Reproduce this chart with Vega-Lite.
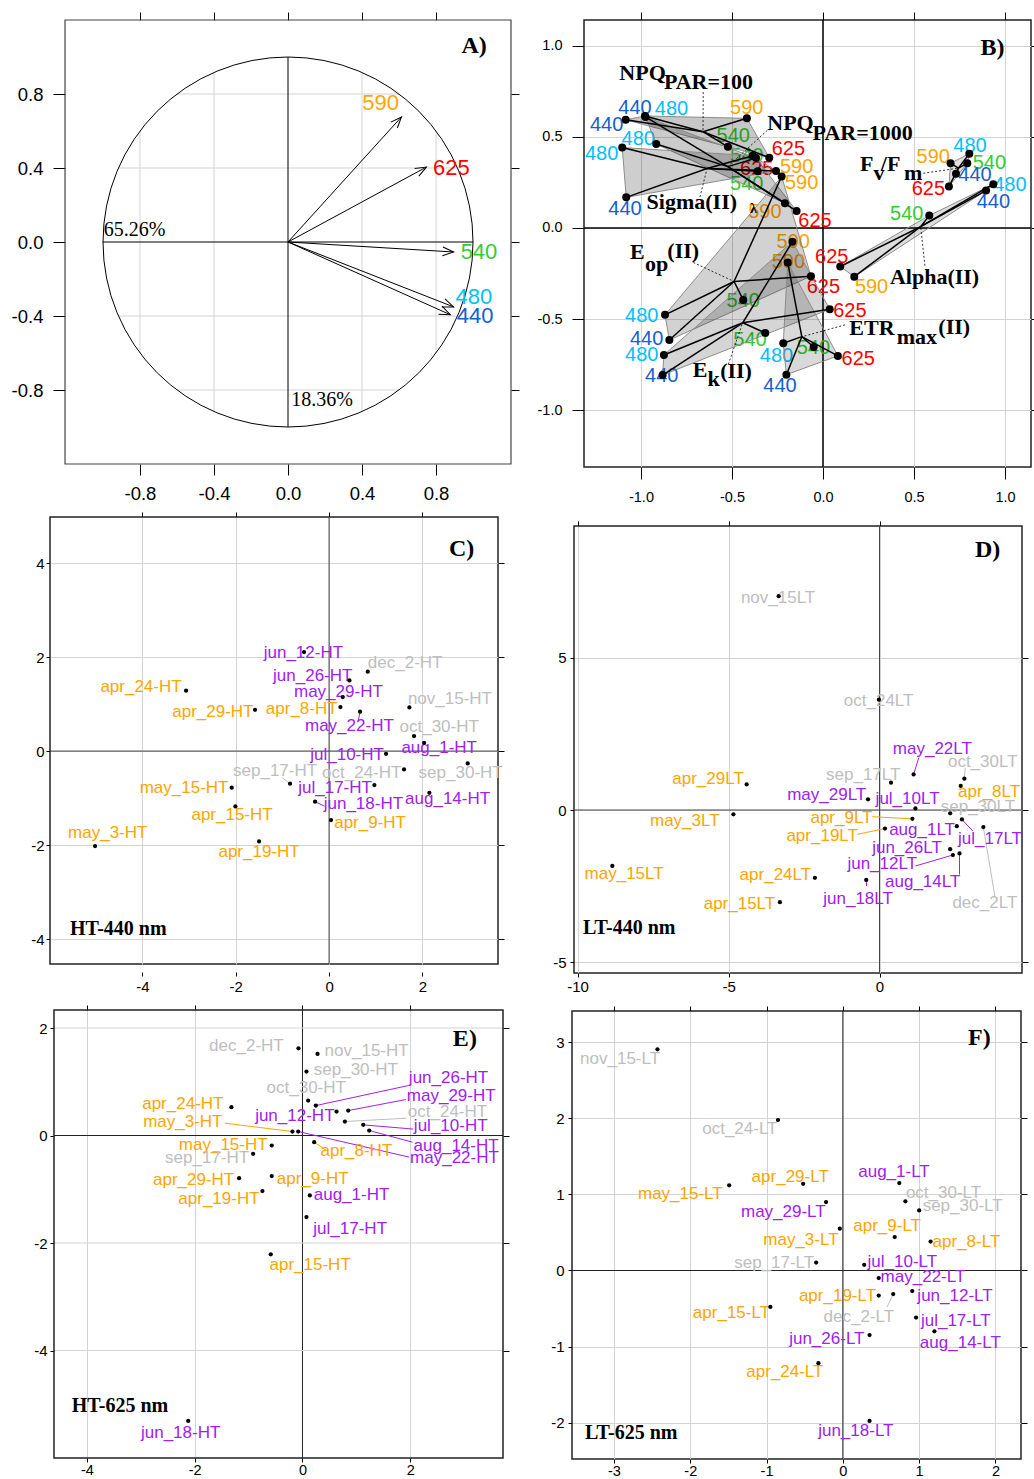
{
"$schema":"https://vega.github.io/schema/vega-lite/v6.json",
"padding":0,
"columns":2,
"align":"none",
"bounds":"full",
"spacing":{"row":0,"column":0},
"resolve":{"scale":{"color":"independent","fillOpacity":"independent"}},
"config":{
 "view":{"stroke":"#222","strokeWidth":1.5},
 "axis":{"labelFont":"Liberation Sans","labelColor":"black","tickColor":"black","tickWidth":1,"domain":false,"labelFlush":false,"labelOverlap":false,"gridColor":"#D3D3D3","gridWidth":1},
 "locale":{"number":{"decimal":".","thousands":",","grouping":[3],"currency":["$",""],"minus":"-"}}
},
"datasets":{
 "A_grid":[
  {"x":-0.8,"y":-0.6,"x2":-0.8,"y2":0.6},{"x":-0.4,"y":-0.9165,"x2":-0.4,"y2":0.9165},
  {"x":0.4,"y":-0.9165,"x2":0.4,"y2":0.9165},{"x":0.8,"y":-0.6,"x2":0.8,"y2":0.6},
  {"x":-0.6,"y":0.8,"x2":0.6,"y2":0.8},{"x":-0.9165,"y":0.4,"x2":0.9165,"y2":0.4},
  {"x":-0.9165,"y":-0.4,"x2":0.9165,"y2":-0.4},{"x":-0.6,"y":-0.8,"x2":0.6,"y2":-0.8}],
 "A_axes":[{"x":-1,"y":0,"x2":1,"y2":0},{"x":0,"y":-1,"x2":0,"y2":1}],
 "A_box":[{"x":-1.205,"y":-1.2,"x2":1.205,"y2":1.2}],
 "A_vec":[
  {"wl":"590","x":0.613,"y":0.676,"lx":0.501,"ly":0.751},
  {"wl":"625","x":0.748,"y":0.405,"lx":0.883,"ly":0.40},
  {"wl":"540","x":0.895,"y":-0.054,"lx":1.032,"ly":-0.054},
  {"wl":"480","x":0.895,"y":-0.351,"lx":1.004,"ly":-0.297},
  {"wl":"440","x":0.877,"y":-0.393,"lx":1.011,"ly":-0.398}],
 "B_pts":[
  {"p":"NPQ100","wl":"440","x":-1.084,"y":0.593,"lx":-1.189,"ly":0.562,"h":1},
  {"p":"NPQ100","wl":"480","x":-0.978,"y":0.614,"lx":-0.832,"ly":0.654,"h":2},
  {"p":"NPQ100","wl":"590","x":-0.418,"y":0.601,"lx":-0.419,"ly":0.659,"h":3},
  {"p":"NPQ100","wl":"625","x":-0.295,"y":0.385,"lx":-0.190,"ly":0.434,"h":4},
  {"p":"NPQ100","wl":"540","x":-0.522,"y":0.445,"lx":-0.493,"ly":0.502,"h":5},
  {"p":"NPQ1000","wl":"440","x":-0.975,"y":0.609,"lx":-1.033,"ly":0.659,"h":1},
  {"p":"NPQ1000","wl":"540","x":-0.368,"y":0.383,"lx":-0.419,"ly":0.242,"h":2},
  {"p":"NPQ1000","wl":"625","x":-0.145,"y":0.093,"lx":-0.044,"ly":0.040,"h":3},
  {"p":"NPQ1000","wl":"590","x":-0.209,"y":0.136,"lx":-0.319,"ly":0.086,"h":4},
  {"p":"NPQ1000","wl":"480","x":-0.916,"y":0.460,"lx":-1.015,"ly":0.489,"h":5},
  {"p":"Sigma","wl":"480","x":-1.103,"y":0.441,"lx":-1.216,"ly":0.407,"h":1},
  {"p":"Sigma","wl":"540","x":-0.386,"y":0.396,"lx":-0.419,"ly":0.397,"h":2},
  {"p":"Sigma","wl":"590","x":-0.258,"y":0.313,"lx":-0.145,"ly":0.333,"h":3},
  {"p":"Sigma","wl":"440","x":-1.081,"y":0.168,"lx":-1.088,"ly":0.104,"h":4},
  {"p":"Sigma","wl":"625","x":-0.359,"y":0.311,"lx":-0.364,"ly":0.324,"h":null},
  {"p":"Eop","wl":"480","x":-0.868,"y":-0.476,"lx":-0.996,"ly":-0.482,"h":1},
  {"p":"Eop","wl":"590","x":-0.227,"y":0.282,"lx":-0.117,"ly":0.247,"h":2},
  {"p":"Eop","wl":"625","x":-0.066,"y":-0.264,"lx":0.002,"ly":-0.326,"h":3},
  {"p":"Eop","wl":"440","x":-0.844,"y":-0.614,"lx":-0.969,"ly":-0.606,"h":4},
  {"p":"Eop","wl":"540","x":-0.438,"y":-0.394,"lx":-0.438,"ly":-0.399,"h":null},
  {"p":"Ek","wl":"480","x":-0.874,"y":-0.696,"lx":-0.996,"ly":-0.698,"h":1},
  {"p":"Ek","wl":"590","x":-0.168,"y":-0.075,"lx":-0.163,"ly":-0.075,"h":2},
  {"p":"Ek","wl":"625","x":0.037,"y":-0.445,"lx":0.148,"ly":-0.454,"h":3},
  {"p":"Ek","wl":"440","x":-0.881,"y":-0.806,"lx":-0.886,"ly":-0.811,"h":4},
  {"p":"Ek","wl":"540","x":-0.317,"y":-0.575,"lx":-0.401,"ly":-0.615,"h":null},
  {"p":"ETRmax","wl":"590","x":-0.194,"y":-0.189,"lx":-0.190,"ly":-0.189,"h":1},
  {"p":"ETRmax","wl":"625","x":0.082,"y":-0.701,"lx":0.194,"ly":-0.720,"h":2},
  {"p":"ETRmax","wl":"440","x":-0.201,"y":-0.804,"lx":-0.236,"ly":-0.866,"h":3},
  {"p":"ETRmax","wl":"480","x":-0.218,"y":-0.632,"lx":-0.255,"ly":-0.701,"h":4},
  {"p":"ETRmax","wl":"540","x":-0.051,"y":-0.652,"lx":-0.053,"ly":-0.656,"h":null},
  {"p":"Alpha","wl":"625","x":0.095,"y":-0.211,"lx":0.048,"ly":-0.161,"h":1},
  {"p":"Alpha","wl":"540","x":0.584,"y":0.068,"lx":0.460,"ly":0.077,"h":2},
  {"p":"Alpha","wl":"480","x":0.936,"y":0.240,"lx":1.027,"ly":0.233,"h":3},
  {"p":"Alpha","wl":"440","x":0.896,"y":0.205,"lx":0.936,"ly":0.141,"h":4},
  {"p":"Alpha","wl":"590","x":0.172,"y":-0.267,"lx":0.267,"ly":-0.326,"h":5},
  {"p":"FvFm","wl":"625","x":0.692,"y":0.227,"lx":0.579,"ly":0.211,"h":1},
  {"p":"FvFm","wl":"590","x":0.701,"y":0.355,"lx":0.606,"ly":0.388,"h":2},
  {"p":"FvFm","wl":"480","x":0.804,"y":0.407,"lx":0.808,"ly":0.452,"h":3},
  {"p":"FvFm","wl":"540","x":0.793,"y":0.355,"lx":0.914,"ly":0.355,"h":4},
  {"p":"FvFm","wl":"440","x":0.731,"y":0.297,"lx":0.835,"ly":0.288,"h":null}],
 "B_plab":[
  {"t":"NPQ","x":-1.119,"y":0.813},{"t":"PAR=100","x":-0.874,"y":0.764},
  {"t":"NPQ","x":-0.306,"y":0.535},{"t":"PAR=1000","x":-0.057,"y":0.485},
  {"t":"F","x":0.203,"y":0.315},{"t":"v","x":0.277,"y":0.264},{"t":"/F","x":0.318,"y":0.315},{"t":"m","x":0.445,"y":0.264},
  {"t":"Sigma(II)","x":-0.969,"y":0.104},
  {"t":"E","x":-1.060,"y":-0.170},{"t":"op","x":-0.978,"y":-0.234},{"t":"(II)","x":-0.855,"y":-0.165},
  {"t":"E","x":-0.716,"y":-0.817},{"t":"k","x":-0.635,"y":-0.866},{"t":"(II)","x":-0.565,"y":-0.821},
  {"t":"ETR","x":0.145,"y":-0.586},{"t":"max","x":0.405,"y":-0.637},{"t":"(II)","x":0.634,"y":-0.579},
  {"t":"Alpha(II)","x":0.368,"y":-0.308}],
 "B_lead":[
  {"x":-0.658,"y":0.745,"x2":-0.659,"y2":0.528},
  {"x":-0.306,"y":0.535,"x2":-0.523,"y2":0.337},
  {"x":-0.676,"y":0.170,"x2":-0.637,"y2":0.326},
  {"x":0.551,"y":0.300,"x2":0.744,"y2":0.328},
  {"x":-0.712,"y":-0.189,"x2":-0.489,"y2":-0.293},
  {"x":-0.520,"y":-0.747,"x2":-0.441,"y2":-0.519},
  {"x":0.121,"y":-0.531,"x2":-0.116,"y2":-0.596},
  {"x":0.560,"y":-0.207,"x2":0.537,"y2":0.007}],
 "C":[
  {"n":"jun_12-HT","s":"su","x":-0.536,"y":2.106,"lx":-0.55,"ly":2.085},
  {"n":"dec_2-HT","s":"fa","x":0.829,"y":1.688,"lx":1.63,"ly":1.88},
  {"n":"jun_26-HT","s":"su","x":0.436,"y":1.504,"lx":-0.35,"ly":1.596},
  {"n":"apr_24-HT","s":"sp","x":-3.064,"y":1.284,"lx":-4.03,"ly":1.369},
  {"n":"may_29-HT","s":"su","x":0.293,"y":1.149,"lx":0.2,"ly":1.262},
  {"n":"nov_15-HT","s":"fa","x":1.721,"y":0.929,"lx":2.59,"ly":1.113},
  {"n":"apr_29-HT","s":"sp","x":-1.586,"y":0.879,"lx":-2.49,"ly":0.837},
  {"n":"apr_8-HT","s":"sp","x":0.243,"y":0.936,"lx":-0.586,"ly":0.887},
  {"n":"may_22-HT","s":"su","x":0.664,"y":0.837,"lx":0.436,"ly":0.532,"ex":0.629,"ey":0.66},
  {"n":"oct_30-HT","s":"fa","x":1.821,"y":0.319,"lx":2.36,"ly":0.518},
  {"n":"aug_1-HT","s":"su","x":2.036,"y":0.177,"lx":2.36,"ly":0.057},
  {"n":"jul_10-HT","s":"su","x":1.221,"y":-0.057,"lx":0.386,"ly":-0.092},
  {"n":"sep_30-HT","s":"fa","x":2.971,"y":-0.262,"lx":2.82,"ly":-0.461},
  {"n":"oct_24-HT","s":"fa","x":1.607,"y":-0.39,"lx":0.7,"ly":-0.461},
  {"n":"sep_17-HT","s":"fa","x":-0.836,"y":-0.695,"lx":-1.157,"ly":-0.426,"ex":-1.0,"ey":-0.57},
  {"n":"jul_17-HT","s":"su","x":0.971,"y":-0.723,"lx":0.129,"ly":-0.794},
  {"n":"may_15-HT","s":"sp","x":-2.086,"y":-0.78,"lx":-3.107,"ly":-0.794},
  {"n":"aug_14-HT","s":"su","x":2.15,"y":-0.887,"lx":2.54,"ly":-1.028},
  {"n":"jun_18-HT","s":"su","x":-0.3,"y":-1.078,"lx":0.736,"ly":-1.12,"ex":-0.1,"ey":-1.17},
  {"n":"apr_15-HT","s":"sp","x":-2.007,"y":-1.177,"lx":-2.079,"ly":-1.362},
  {"n":"apr_9-HT","s":"sp","x":0.043,"y":-1.468,"lx":0.879,"ly":-1.525},
  {"n":"may_3-HT","s":"sp","x":-5.014,"y":-2.021,"lx":-4.743,"ly":-1.738},
  {"n":"apr_19-HT","s":"sp","x":-1.5,"y":-1.922,"lx":-1.5,"ly":-2.149}],
 "D":[
  {"n":"nov_15LT","s":"fa","x":-3.34,"y":7.03,"lx":-3.36,"ly":6.97},
  {"n":"oct_24LT","s":"fa","x":-0.02,"y":3.63,"lx":-0.03,"ly":3.57},
  {"n":"may_22LT","s":"su","x":1.13,"y":1.17,"lx":1.75,"ly":2.02,"ex":1.30,"ey":1.72},
  {"n":"oct_30LT","s":"fa","x":2.81,"y":1.03,"lx":3.42,"ly":1.59,"ex":2.84,"ey":1.39},
  {"n":"apr_29LT","s":"sp","x":-4.4,"y":0.84,"lx":-5.68,"ly":1.03},
  {"n":"sep_17LT","s":"fa","x":0.38,"y":0.9,"lx":-0.54,"ly":1.14},
  {"n":"apr_8LT","s":"sp","x":2.69,"y":0.79,"lx":3.63,"ly":0.6},
  {"n":"may_29LT","s":"su","x":-0.38,"y":0.35,"lx":-1.75,"ly":0.49},
  {"n":"jul_10LT","s":"su","x":1.19,"y":0.05,"lx":0.93,"ly":0.35},
  {"n":"sep_30LT","s":"fa","x":2.34,"y":-0.11,"lx":3.26,"ly":0.11},
  {"n":"may_3LT","s":"sp","x":-4.84,"y":-0.14,"lx":-6.45,"ly":-0.36},
  {"n":"apr_9LT","s":"sp","x":1.09,"y":-0.29,"lx":-1.26,"ly":-0.25,"ex":-0.24,"ey":-0.22},
  {"n":"jul_17LT","s":"su","x":2.73,"y":-0.31,"lx":3.66,"ly":-0.96,"ex":3.09,"ey":-0.69},
  {"n":"aug_1LT","s":"su","x":2.56,"y":-0.53,"lx":1.41,"ly":-0.67},
  {"n":"apr_19LT","s":"sp","x":0.18,"y":-0.61,"lx":-1.9,"ly":-0.86,"ex":-0.74,"ey":-0.8},
  {"n":"jun_26LT","s":"su","x":2.34,"y":-1.29,"lx":0.91,"ly":-1.24},
  {"n":"jun_12LT","s":"su","x":2.43,"y":-1.48,"lx":0.09,"ly":-1.79,"ex":1.19,"ey":-1.84},
  {"n":"aug_14LT","s":"su","x":2.65,"y":-1.43,"lx":1.43,"ly":-2.36,"ex":2.65,"ey":-2.12},
  {"n":"may_15LT","s":"sp","x":-8.85,"y":-1.84,"lx":-8.46,"ly":-2.09},
  {"n":"apr_24LT","s":"sp","x":-2.14,"y":-2.23,"lx":-3.45,"ly":-2.14},
  {"n":"jun_18LT","s":"su","x":-0.44,"y":-2.3,"lx":-0.71,"ly":-2.94,"ex":-0.43,"ey":-2.5},
  {"n":"apr_15LT","s":"sp","x":-3.3,"y":-3.03,"lx":-4.64,"ly":-3.08},
  {"n":"dec_2LT","s":"fa","x":3.44,"y":-0.56,"lx":3.49,"ly":-3.05,"ex":3.82,"ey":-2.83}],
 "E":[
  {"n":"dec_2-HT","s":"fa","x":-0.074,"y":1.622,"lx":-1.04,"ly":1.672},
  {"n":"nov_15-HT","s":"fa","x":0.279,"y":1.517,"lx":1.19,"ly":1.579},
  {"n":"sep_30-HT","s":"fa","x":0.074,"y":1.189,"lx":0.99,"ly":1.226},
  {"n":"oct_30-HT","s":"fa","x":0.105,"y":0.65,"lx":0.07,"ly":0.879},
  {"n":"jun_26-HT","s":"su","x":0.248,"y":0.557,"lx":2.71,"ly":1.065,"ex":1.963,"ey":0.929},
  {"n":"apr_24-HT","s":"sp","x":-1.319,"y":0.526,"lx":-2.22,"ly":0.588},
  {"n":"may_29-HT","s":"su","x":0.848,"y":0.464,"lx":2.76,"ly":0.743,"ex":1.92,"ey":0.669},
  {"n":"jun_12-HT","s":"su","x":0.632,"y":0.446,"lx":-0.142,"ly":0.359},
  {"n":"oct_24-HT","s":"fa","x":0.786,"y":0.26,"lx":2.69,"ly":0.433,"ex":1.93,"ey":0.322},
  {"n":"jul_10-HT","s":"su","x":1.127,"y":0.198,"lx":2.75,"ly":0.173,"ex":2.05,"ey":0.12},
  {"n":"aug_14-HT","s":"su","x":1.238,"y":0.093,"lx":2.85,"ly":-0.186,"ex":2.04,"ey":-0.124},
  {"n":"may_3-HT","s":"sp","x":-0.186,"y":0.074,"lx":-2.22,"ly":0.248,"ex":-1.44,"ey":0.229},
  {"n":"may_22-HT","s":"su","x":-0.08,"y":0.074,"lx":2.82,"ly":-0.421,"ex":1.98,"ey":-0.402},
  {"n":"apr_8-HT","s":"sp","x":0.217,"y":-0.124,"lx":1.0,"ly":-0.297,"ex":0.446,"ey":-0.279},
  {"n":"may_15-HT","s":"sp","x":-0.57,"y":-0.186,"lx":-1.47,"ly":-0.173},
  {"n":"sep_17-HT","s":"fa","x":-0.916,"y":-0.341,"lx":-1.77,"ly":-0.421},
  {"n":"apr_29-HT","s":"sp","x":-1.176,"y":-0.793,"lx":-2.02,"ly":-0.836},
  {"n":"apr_9-HT","s":"sp","x":-0.57,"y":-0.755,"lx":0.19,"ly":-0.805},
  {"n":"apr_19-HT","s":"sp","x":-0.743,"y":-1.034,"lx":-1.55,"ly":-1.189},
  {"n":"aug_1-HT","s":"su","x":0.136,"y":-1.115,"lx":0.91,"ly":-1.115},
  {"n":"jul_17-HT","s":"su","x":0.074,"y":-1.517,"lx":0.885,"ly":-1.734},
  {"n":"apr_15-HT","s":"sp","x":-0.588,"y":-2.21,"lx":0.142,"ly":-2.415},
  {"n":"jun_18-HT","s":"su","x":-2.12,"y":-5.31,"lx":-2.26,"ly":-5.53}],
 "E_box":[{"x":-4.61,"y":-6.0,"x2":3.72,"y2":2.335}],
 "E_hl":[{"g":-4,"xa":-4.61,"xb":3.72,"k":"grid"},{"g":-2,"xa":-4.61,"xb":3.72,"k":"grid"},{"g":2,"xa":-4.61,"xb":3.72,"k":"grid"},{"g":0,"xa":-4.61,"xb":3.72,"k":"zero"}],
 "F":[
  {"n":"nov_15-LT","s":"fa","x":-2.43,"y":2.91,"lx":-2.92,"ly":2.78},
  {"n":"oct_24-LT","s":"fa","x":-0.85,"y":1.98,"lx":-1.35,"ly":1.86},
  {"n":"apr_29-LT","s":"sp","x":-0.52,"y":1.14,"lx":-0.69,"ly":1.23},
  {"n":"aug_1-LT","s":"su","x":0.74,"y":1.15,"lx":0.67,"ly":1.29},
  {"n":"may_15-LT","s":"sp","x":-1.49,"y":1.12,"lx":-2.13,"ly":1.01},
  {"n":"oct_30-LT","s":"fa","x":0.82,"y":0.91,"lx":1.32,"ly":1.02},
  {"n":"may_29-LT","s":"su","x":-0.22,"y":0.9,"lx":-0.78,"ly":0.77},
  {"n":"sep_30-LT","s":"fa","x":1.0,"y":0.79,"lx":1.57,"ly":0.85},
  {"n":"may_3-LT","s":"sp","x":-0.04,"y":0.55,"lx":-0.55,"ly":0.4},
  {"n":"apr_9-LT","s":"sp","x":0.68,"y":0.44,"lx":0.58,"ly":0.58},
  {"n":"apr_8-LT","s":"sp","x":1.15,"y":0.38,"lx":1.62,"ly":0.37},
  {"n":"sep_17-LT","s":"fa","x":-0.35,"y":0.105,"lx":-0.9,"ly":0.105},
  {"n":"jul_10-LT","s":"su","x":0.28,"y":0.075,"lx":0.78,"ly":0.118},
  {"n":"may_22-LT","s":"su","x":0.47,"y":-0.1,"lx":1.05,"ly":-0.088},
  {"n":"apr_19-LT","s":"sp","x":0.47,"y":-0.33,"lx":-0.07,"ly":-0.33},
  {"n":"dec_2-LT","s":"fa","x":0.66,"y":-0.31,"lx":0.21,"ly":-0.61,"ex":0.58,"ey":-0.48},
  {"n":"jun_12-LT","s":"su","x":0.91,"y":-0.27,"lx":1.47,"ly":-0.33},
  {"n":"apr_15-LT","s":"sp","x":-0.95,"y":-0.48,"lx":-1.46,"ly":-0.56},
  {"n":"jul_17-LT","s":"su","x":0.96,"y":-0.62,"lx":1.48,"ly":-0.66},
  {"n":"aug_14-LT","s":"su","x":1.2,"y":-0.8,"lx":1.54,"ly":-0.96},
  {"n":"jun_26-LT","s":"su","x":0.35,"y":-0.85,"lx":-0.21,"ly":-0.9},
  {"n":"apr_24-LT","s":"sp","x":-0.32,"y":-1.22,"lx":-0.76,"ly":-1.34},
  {"n":"jun_18-LT","s":"su","x":0.35,"y":-1.98,"lx":0.17,"ly":-2.11}]
},
"concat":[
 {
  "width":461,"height":444,
  "view":{"stroke":null},
  "resolve":{"axis":{"x":"independent","y":"independent"}},
  "layer":[
   {"data":{"name":"A_grid"},"mark":{"type":"rule","color":"#D3D3D3","strokeWidth":1},
    "encoding":{
     "x":{"field":"x","type":"quantitative","scale":{"domain":[-1.2861,1.205],"nice":false,"zero":false},
      "axis":{"orient":"bottom","values":[-0.8,-0.4,0,0.4,0.8],"format":".1f","tickSize":11,"labelPadding":9,"labelFontSize":18.5,"minExtent":43,"maxExtent":43,"grid":false,"title":null}},
     "y":{"field":"y","type":"quantitative","scale":{"domain":[-1.2,1.2],"nice":false,"zero":false},
      "axis":{"orient":"left","offset":-15,"values":[-0.8,-0.4,0,0.4,0.8],"format":".1f","tickSize":12,"labelPadding":10,"labelFontSize":18.5,"minExtent":64,"maxExtent":64,"grid":false,"title":null}},
     "x2":{"field":"x2"},"y2":{"field":"y2"}}},
   {"data":{"name":"A_axes"},"mark":{"type":"rule","color":"black","strokeWidth":1},
    "encoding":{
     "x":{"field":"x","type":"quantitative","scale":{"domain":[-1.2861,1.205],"nice":false,"zero":false},
      "axis":{"orient":"top","values":[-0.8,-0.4,0,0.4,0.8],"labels":false,"tickSize":8,"minExtent":19,"maxExtent":19,"grid":false,"title":null}},
     "y":{"field":"y","type":"quantitative","scale":{"domain":[-1.2,1.2],"nice":false,"zero":false},
      "axis":{"orient":"right","values":[-0.8,-0.4,0,0.4,0.8],"labels":false,"tickSize":8,"minExtent":10,"maxExtent":10,"grid":false,"title":null}},
     "x2":{"field":"x2"},"y2":{"field":"y2"}}},
   {"data":{"name":"A_box"},"mark":{"type":"rect","filled":false,"stroke":"#444","strokeWidth":1.2},
    "encoding":{
     "x":{"field":"x","type":"quantitative","scale":{"domain":[-1.2861,1.205],"nice":false,"zero":false},"axis":null},
     "y":{"field":"y","type":"quantitative","scale":{"domain":[-1.2,1.2],"nice":false,"zero":false},"axis":null},
     "x2":{"field":"x2"},"y2":{"field":"y2"}}},
   {"data":{"values":[{"x":0,"y":0}]},
    "mark":{"type":"point","shape":"circle","size":136900,"filled":false,"stroke":"black","strokeWidth":1,"opacity":1},
    "encoding":{
     "x":{"field":"x","type":"quantitative","scale":{"domain":[-1.2861,1.205],"nice":false,"zero":false},"axis":null},
     "y":{"field":"y","type":"quantitative","scale":{"domain":[-1.2,1.2],"nice":false,"zero":false},"axis":null}}},
   {"data":{"name":"A_vec"},"mark":{"type":"rule","color":"black","strokeWidth":1},
    "encoding":{
     "x":{"field":"x","type":"quantitative","scale":{"domain":[-1.2861,1.205],"nice":false,"zero":false},"axis":null},
     "y":{"field":"y","type":"quantitative","scale":{"domain":[-1.2,1.2],"nice":false,"zero":false},"axis":null},
     "x2":{"datum":0},"y2":{"datum":0}}},
   {"data":{"name":"A_vec"},
    "transform":[{"calculate":"-atan2(datum.y, datum.x) * 180 / PI","as":"ang"}],
    "mark":{"type":"point","shape":"M-1,-0.4L0,0L-1,0.4","size":484,"filled":false,"stroke":"black","strokeWidth":1,"opacity":1},
    "encoding":{
     "x":{"field":"x","type":"quantitative","scale":{"domain":[-1.2861,1.205],"nice":false,"zero":false},"axis":null},
     "y":{"field":"y","type":"quantitative","scale":{"domain":[-1.2,1.2],"nice":false,"zero":false},"axis":null},
     "angle":{"field":"ang","type":"quantitative","scale":null}}},
   {"data":{"name":"A_vec"},
    "mark":{"type":"text","font":"Liberation Sans","fontSize":22,"align":"center","baseline":"middle"},
    "encoding":{
     "x":{"field":"lx","type":"quantitative","scale":{"domain":[-1.2861,1.205],"nice":false,"zero":false},"axis":null},
     "y":{"field":"ly","type":"quantitative","scale":{"domain":[-1.2,1.2],"nice":false,"zero":false},"axis":null},
     "text":{"field":"wl","type":"nominal"},
     "color":{"field":"wl","type":"nominal","scale":{"domain":["440","480","540","590","625"],"range":["#1560D0","#00BFFF","#32CD32","#FFA500","#FF0000"]},"legend":null}}},
   {"data":{"values":[{"t":"65.26%","x":-0.996,"y":0.067},{"t":"18.36%","x":0.018,"y":-0.852}]},
    "mark":{"type":"text","font":"Liberation Serif","fontSize":20,"align":"left","baseline":"middle","color":"black"},
    "encoding":{
     "x":{"field":"x","type":"quantitative","scale":{"domain":[-1.2861,1.205],"nice":false,"zero":false},"axis":null},
     "y":{"field":"y","type":"quantitative","scale":{"domain":[-1.2,1.2],"nice":false,"zero":false},"axis":null},
     "text":{"field":"t","type":"nominal"}}},
   {"data":{"values":[{"t":"A)","x":0.937,"y":1.059}]},
    "mark":{"type":"text","font":"Liberation Serif","fontSize":24,"fontWeight":"bold","align":"left","baseline":"middle","color":"black"},
    "encoding":{
     "x":{"field":"x","type":"quantitative","scale":{"domain":[-1.2861,1.205],"nice":false,"zero":false},"axis":null},
     "y":{"field":"y","type":"quantitative","scale":{"domain":[-1.2,1.2],"nice":false,"zero":false},"axis":null},
     "text":{"field":"t","type":"nominal"}}}
  ]
 },
 {
  "width":447,"height":447,
  "view":{"stroke":"#222","strokeWidth":1.5},
  "resolve":{"axis":{"x":"independent","y":"independent"}},
  "layer":[
   {"data":{"values":[{"z":0}]},"mark":{"type":"rule","color":"black","strokeWidth":1.5},
    "encoding":{"x":{"field":"z","type":"quantitative","scale":{"domain":[-1.313,1.143],"nice":false,"zero":false},
     "axis":{"orient":"top","values":[-1,-0.5,0,0.5,1],"labels":false,"tickSize":8,"minExtent":19,"maxExtent":19,"grid":true,"title":null}}}},
   {"data":{"values":[{"z":0}]},"mark":{"type":"rule","color":"black","strokeWidth":1.5},
    "encoding":{"y":{"field":"z","type":"quantitative","scale":{"domain":[-1.31,1.14],"nice":false,"zero":false},
     "axis":{"orient":"right","values":[-1,-0.5,0,0.5,1],"labels":false,"tickSize":8,"minExtent":10,"maxExtent":10,"grid":false,"title":null}}}},
   {"data":{"name":"B_pts"},
    "mark":{"type":"text","font":"Liberation Sans","fontSize":20,"align":"center","baseline":"middle"},
    "encoding":{
     "x":{"field":"lx","type":"quantitative","scale":{"domain":[-1.313,1.143],"nice":false,"zero":false},
      "axis":{"orient":"bottom","values":[-1,-0.5,0,0.5,1],"format":".1f","tickSize":12,"labelPadding":11,"labelFontSize":14.5,"minExtent":40,"maxExtent":40,"grid":false,"title":null}},
     "y":{"field":"ly","type":"quantitative","scale":{"domain":[-1.31,1.14],"nice":false,"zero":false},
      "axis":{"orient":"left","values":[-1,-0.5,0,0.5,1],"format":".1f","tickSize":12,"labelPadding":10,"labelFontSize":14.5,"minExtent":62,"maxExtent":62,"grid":true,"title":null}},
     "text":{"field":"wl","type":"nominal"},
     "color":{"field":"wl","type":"nominal","scale":{"domain":["440","480","540","590","625"],"range":["#1560D0","#00BFFF","#32CD32","#FFA500","#FF0000"]},"legend":null}}},
   {"data":{"name":"B_pts"},"transform":[{"filter":"isValid(datum.h)"}],
    "mark":{"type":"line","interpolate":"linear-closed","fill":"black","stroke":"#8C8C8C","strokeWidth":1},
    "encoding":{
     "x":{"field":"x","type":"quantitative","scale":{"domain":[-1.313,1.143],"nice":false,"zero":false},"axis":null},
     "y":{"field":"y","type":"quantitative","scale":{"domain":[-1.31,1.14],"nice":false,"zero":false},"axis":null},
     "detail":{"field":"p","type":"nominal"},
     "order":{"field":"h","type":"quantitative"},
     "fillOpacity":{"field":"p","type":"nominal","scale":{"domain":["NPQ100","NPQ1000","Sigma","Eop","Ek","ETRmax","Alpha","FvFm"],"range":[0.22,0.12,0.07,0.05,0.22,0.1,0.18,0.13]},"legend":null}}},
   {"data":{"name":"B_pts"},
    "transform":[{"joinaggregate":[{"op":"mean","field":"x","as":"mx"},{"op":"mean","field":"y","as":"my"}],"groupby":["p"]}],
    "mark":{"type":"rule","color":"black","strokeWidth":1.5},
    "encoding":{
     "x":{"field":"x","type":"quantitative","scale":{"domain":[-1.313,1.143],"nice":false,"zero":false},"axis":null},
     "y":{"field":"y","type":"quantitative","scale":{"domain":[-1.31,1.14],"nice":false,"zero":false},"axis":null},
     "x2":{"field":"mx"},"y2":{"field":"my"}}},
   {"data":{"name":"B_pts"},"mark":{"type":"circle","color":"black","size":64,"opacity":1},
    "encoding":{
     "x":{"field":"x","type":"quantitative","scale":{"domain":[-1.313,1.143],"nice":false,"zero":false},"axis":null},
     "y":{"field":"y","type":"quantitative","scale":{"domain":[-1.31,1.14],"nice":false,"zero":false},"axis":null}}},
   {"data":{"name":"B_lead"},"mark":{"type":"rule","color":"black","strokeWidth":0.8,"strokeDash":[2,2]},
    "encoding":{
     "x":{"field":"x","type":"quantitative","scale":{"domain":[-1.313,1.143],"nice":false,"zero":false},"axis":null},
     "y":{"field":"y","type":"quantitative","scale":{"domain":[-1.31,1.14],"nice":false,"zero":false},"axis":null},
     "x2":{"field":"x2"},"y2":{"field":"y2"}}},
   {"data":{"name":"B_plab"},
    "mark":{"type":"text","font":"Liberation Serif","fontSize":22,"fontWeight":"bold","align":"left","baseline":"alphabetic","color":"black"},
    "encoding":{
     "x":{"field":"x","type":"quantitative","scale":{"domain":[-1.313,1.143],"nice":false,"zero":false},"axis":null},
     "y":{"field":"y","type":"quantitative","scale":{"domain":[-1.31,1.14],"nice":false,"zero":false},"axis":null},
     "text":{"field":"t","type":"nominal"}}},
   {"data":{"values":[{"t":"λ","x":-0.401,"y":0.081}]},
    "mark":{"type":"text","font":"Liberation Serif","fontSize":14,"fontWeight":"bold","align":"left","baseline":"alphabetic","color":"black"},
    "encoding":{
     "x":{"field":"x","type":"quantitative","scale":{"domain":[-1.313,1.143],"nice":false,"zero":false},"axis":null},
     "y":{"field":"y","type":"quantitative","scale":{"domain":[-1.31,1.14],"nice":false,"zero":false},"axis":null},
     "text":{"field":"t","type":"nominal"}}},
   {"data":{"values":[{"t":"B)","x":0.866,"y":0.985}]},
    "mark":{"type":"text","font":"Liberation Serif","fontSize":24,"fontWeight":"bold","align":"left","baseline":"middle","color":"black"},
    "encoding":{
     "x":{"field":"x","type":"quantitative","scale":{"domain":[-1.313,1.143],"nice":false,"zero":false},"axis":null},
     "y":{"field":"y","type":"quantitative","scale":{"domain":[-1.31,1.14],"nice":false,"zero":false},"axis":null},
     "text":{"field":"t","type":"nominal"}}}
  ]
 },
 {
  "width":448,"height":447,
  "resolve":{"axis":{"x":"independent","y":"independent"}},
  "layer":[
   {"data":{"values":[{"z":0}]},"mark":{"type":"rule","color":"#444","strokeWidth":1},
    "encoding":{"x":{"field":"z","type":"quantitative","scale":{"domain":[-5.98,3.62],"nice":false,"zero":false},
     "axis":{"orient":"top","values":[-4,-2,0,2],"labels":false,"tickSize":5,"minExtent":8,"maxExtent":8,"grid":true,"title":null}}}},
   {"data":{"values":[{"z":0}]},"mark":{"type":"rule","color":"#444","strokeWidth":1},
    "encoding":{"y":{"field":"z","type":"quantitative","scale":{"domain":[-4.53,4.98],"nice":false,"zero":false},
     "axis":{"orient":"right","values":[-4,-2,0,2,4],"labels":false,"tickSize":6,"minExtent":10,"maxExtent":10,"grid":false,"title":null}}}},
   {"data":{"name":"C"},"transform":[{"filter":"isValid(datum.ex)"}],"mark":{"type":"rule","strokeWidth":1},
    "encoding":{
     "x":{"field":"x","type":"quantitative","scale":{"domain":[-5.98,3.62],"nice":false,"zero":false},"axis":null},
     "y":{"field":"y","type":"quantitative","scale":{"domain":[-4.53,4.98],"nice":false,"zero":false},"axis":null},
     "x2":{"field":"ex"},"y2":{"field":"ey"},
     "color":{"field":"s","type":"nominal","scale":{"domain":["sp","su","fa"],"range":["#FFA500","#A020F0","#BEBEBE"]},"legend":null}}},
   {"data":{"name":"C"},"mark":{"type":"text","font":"Liberation Sans","fontSize":17,"align":"center","baseline":"middle"},
    "encoding":{
     "x":{"field":"lx","type":"quantitative","scale":{"domain":[-5.98,3.62],"nice":false,"zero":false},"axis":null},
     "y":{"field":"ly","type":"quantitative","scale":{"domain":[-4.53,4.98],"nice":false,"zero":false},"axis":null},
     "text":{"field":"n","type":"nominal"},
     "color":{"field":"s","type":"nominal","scale":{"domain":["sp","su","fa"],"range":["#FFA500","#A020F0","#BEBEBE"]},"legend":null}}},
   {"data":{"name":"C"},"mark":{"type":"circle","color":"black","size":18,"opacity":1},
    "encoding":{
     "x":{"field":"x","type":"quantitative","scale":{"domain":[-5.98,3.62],"nice":false,"zero":false},
      "axis":{"orient":"bottom","values":[-4,-2,0,2],"offset":8,"tickSize":4,"labelPadding":3,"labelFontSize":15,"minExtent":22,"maxExtent":22,"grid":false,"title":null}},
     "y":{"field":"y","type":"quantitative","scale":{"domain":[-4.53,4.98],"nice":false,"zero":false},
      "axis":{"orient":"left","values":[-4,-2,0,2,4],"tickSize":4,"labelPadding":2,"labelFontSize":15,"minExtent":49,"maxExtent":49,"grid":true,"title":null}}}},
   {"data":{"values":[{"t":"C)","x":2.57,"y":4.30}]},
    "mark":{"type":"text","font":"Liberation Serif","fontSize":24,"fontWeight":"bold","align":"left","baseline":"middle","color":"black"},
    "encoding":{
     "x":{"field":"x","type":"quantitative","scale":{"domain":[-5.98,3.62],"nice":false,"zero":false},"axis":null},
     "y":{"field":"y","type":"quantitative","scale":{"domain":[-4.53,4.98],"nice":false,"zero":false},"axis":null},
     "text":{"field":"t","type":"nominal"}}},
   {"data":{"values":[{"t":"HT-440 nm","x":-5.55,"y":-3.79}]},
    "mark":{"type":"text","font":"Liberation Serif","fontSize":20,"fontWeight":"bold","align":"left","baseline":"middle","color":"black"},
    "encoding":{
     "x":{"field":"x","type":"quantitative","scale":{"domain":[-5.98,3.62],"nice":false,"zero":false},"axis":null},
     "y":{"field":"y","type":"quantitative","scale":{"domain":[-4.53,4.98],"nice":false,"zero":false},"axis":null},
     "text":{"field":"t","type":"nominal"}}}
  ]
 },
 {
  "width":448,"height":447,
  "resolve":{"axis":{"x":"independent","y":"independent"}},
  "layer":[
   {"data":{"values":[{"z":0}]},"mark":{"type":"rule","color":"#444","strokeWidth":1},
    "encoding":{"x":{"field":"z","type":"quantitative","scale":{"domain":[-10.12,4.72],"nice":false,"zero":false},
     "axis":{"orient":"top","values":[-10,-5,0],"labels":false,"tickSize":5,"minExtent":17,"maxExtent":17,"grid":true,"title":null}}}},
   {"data":{"values":[{"z":0}]},"mark":{"type":"rule","color":"#444","strokeWidth":1},
    "encoding":{"y":{"field":"z","type":"quantitative","scale":{"domain":[-5.36,9.34],"nice":false,"zero":false},
     "axis":{"orient":"right","values":[-5,0,5],"labels":false,"tickSize":6,"minExtent":10,"maxExtent":10,"grid":false,"title":null}}}},
   {"data":{"name":"D"},"transform":[{"filter":"isValid(datum.ex)"}],"mark":{"type":"rule","strokeWidth":1},
    "encoding":{
     "x":{"field":"x","type":"quantitative","scale":{"domain":[-10.12,4.72],"nice":false,"zero":false},"axis":null},
     "y":{"field":"y","type":"quantitative","scale":{"domain":[-5.36,9.34],"nice":false,"zero":false},"axis":null},
     "x2":{"field":"ex"},"y2":{"field":"ey"},
     "color":{"field":"s","type":"nominal","scale":{"domain":["sp","su","fa"],"range":["#FFA500","#A020F0","#BEBEBE"]},"legend":null}}},
   {"data":{"name":"D"},"mark":{"type":"text","font":"Liberation Sans","fontSize":17,"align":"center","baseline":"middle"},
    "encoding":{
     "x":{"field":"lx","type":"quantitative","scale":{"domain":[-10.12,4.72],"nice":false,"zero":false},"axis":null},
     "y":{"field":"ly","type":"quantitative","scale":{"domain":[-5.36,9.34],"nice":false,"zero":false},"axis":null},
     "text":{"field":"n","type":"nominal"},
     "color":{"field":"s","type":"nominal","scale":{"domain":["sp","su","fa"],"range":["#FFA500","#A020F0","#BEBEBE"]},"legend":null}}},
   {"data":{"name":"D"},"mark":{"type":"circle","color":"black","size":18,"opacity":1},
    "encoding":{
     "x":{"field":"x","type":"quantitative","scale":{"domain":[-10.12,4.72],"nice":false,"zero":false},
      "axis":{"orient":"bottom","values":[-10,-5,0],"tickSize":4,"labelPadding":2,"labelFontSize":15,"minExtent":22,"maxExtent":22,"grid":false,"title":null}},
     "y":{"field":"y","type":"quantitative","scale":{"domain":[-5.36,9.34],"nice":false,"zero":false},
      "axis":{"orient":"left","values":[-5,0,5],"tickSize":4,"labelPadding":4,"labelFontSize":15,"minExtent":52,"maxExtent":52,"grid":true,"title":null}}}},
   {"data":{"values":[{"t":"D)","x":3.16,"y":8.55}]},
    "mark":{"type":"text","font":"Liberation Serif","fontSize":24,"fontWeight":"bold","align":"left","baseline":"middle","color":"black"},
    "encoding":{
     "x":{"field":"x","type":"quantitative","scale":{"domain":[-10.12,4.72],"nice":false,"zero":false},"axis":null},
     "y":{"field":"y","type":"quantitative","scale":{"domain":[-5.36,9.34],"nice":false,"zero":false},"axis":null},
     "text":{"field":"t","type":"nominal"}}},
   {"data":{"values":[{"t":"LT-440 nm","x":-9.82,"y":-3.88}]},
    "mark":{"type":"text","font":"Liberation Serif","fontSize":20,"fontWeight":"bold","align":"left","baseline":"middle","color":"black"},
    "encoding":{
     "x":{"field":"x","type":"quantitative","scale":{"domain":[-10.12,4.72],"nice":false,"zero":false},"axis":null},
     "y":{"field":"y","type":"quantitative","scale":{"domain":[-5.36,9.34],"nice":false,"zero":false},"axis":null},
     "text":{"field":"t","type":"nominal"}}}
  ]
 },
 {
  "width":453,"height":448,
  "view":{"stroke":null},
  "resolve":{"axis":{"x":"independent","y":"independent"}},
  "layer":[
   {"data":{"values":[{"z":0}]},"mark":{"type":"rule","color":"#222","strokeWidth":1},
    "encoding":{"x":{"field":"z","type":"quantitative","scale":{"domain":[-4.684,3.72],"nice":false,"zero":false},
     "axis":{"orient":"top","values":[-4,-2,0,2],"labels":false,"tickSize":5,"minExtent":15,"maxExtent":15,"grid":true,"title":null}}}},
   {"data":{"name":"E_hl"},"transform":[{"filter":"datum.k == 'grid'"}],"mark":{"type":"rule","color":"#D3D3D3","strokeWidth":1},
    "encoding":{
     "y":{"field":"g","type":"quantitative","scale":{"domain":[-6.0,2.335],"nice":false,"zero":false},
      "axis":{"orient":"right","values":[-4,-2,0,2],"labels":false,"tickSize":6,"minExtent":10,"maxExtent":10,"grid":false,"title":null}},
     "x":{"field":"xa","type":"quantitative","scale":{"domain":[-4.684,3.72],"nice":false,"zero":false},"axis":null},
     "x2":{"field":"xb"}}},
   {"data":{"name":"E_hl"},"transform":[{"filter":"datum.k == 'zero'"}],"mark":{"type":"rule","color":"#222","strokeWidth":1},
    "encoding":{
     "y":{"field":"g","type":"quantitative","scale":{"domain":[-6.0,2.335],"nice":false,"zero":false},"axis":null},
     "x":{"field":"xa","type":"quantitative","scale":{"domain":[-4.684,3.72],"nice":false,"zero":false},"axis":null},
     "x2":{"field":"xb"}}},
   {"data":{"name":"E_box"},"mark":{"type":"rect","filled":false,"stroke":"#222","strokeWidth":1.5},
    "encoding":{
     "x":{"field":"x","type":"quantitative","scale":{"domain":[-4.684,3.72],"nice":false,"zero":false},"axis":null},
     "y":{"field":"y","type":"quantitative","scale":{"domain":[-6.0,2.335],"nice":false,"zero":false},"axis":null},
     "x2":{"field":"x2"},"y2":{"field":"y2"}}},
   {"data":{"name":"E"},"transform":[{"filter":"isValid(datum.ex)"}],"mark":{"type":"rule","strokeWidth":1},
    "encoding":{
     "x":{"field":"x","type":"quantitative","scale":{"domain":[-4.684,3.72],"nice":false,"zero":false},"axis":null},
     "y":{"field":"y","type":"quantitative","scale":{"domain":[-6.0,2.335],"nice":false,"zero":false},"axis":null},
     "x2":{"field":"ex"},"y2":{"field":"ey"},
     "color":{"field":"s","type":"nominal","scale":{"domain":["sp","su","fa"],"range":["#FFA500","#A020F0","#BEBEBE"]},"legend":null}}},
   {"data":{"name":"E"},"mark":{"type":"text","font":"Liberation Sans","fontSize":17,"align":"center","baseline":"middle"},
    "encoding":{
     "x":{"field":"lx","type":"quantitative","scale":{"domain":[-4.684,3.72],"nice":false,"zero":false},"axis":null},
     "y":{"field":"ly","type":"quantitative","scale":{"domain":[-6.0,2.335],"nice":false,"zero":false},"axis":null},
     "text":{"field":"n","type":"nominal"},
     "color":{"field":"s","type":"nominal","scale":{"domain":["sp","su","fa"],"range":["#FFA500","#A020F0","#BEBEBE"]},"legend":null}}},
   {"data":{"name":"E"},"mark":{"type":"circle","color":"black","size":18,"opacity":1},
    "encoding":{
     "x":{"field":"x","type":"quantitative","scale":{"domain":[-4.684,3.72],"nice":false,"zero":false},
      "axis":{"orient":"bottom","values":[-4,-2,0,2],"tickSize":4,"labelPadding":1,"labelFontSize":14.5,"minExtent":20,"maxExtent":20,"grid":false,"title":null}},
     "y":{"field":"y","type":"quantitative","scale":{"domain":[-6.0,2.335],"nice":false,"zero":false},
      "axis":{"orient":"left","offset":-4,"values":[-4,-2,0,2],"tickSize":4,"labelPadding":3,"labelFontSize":15,"minExtent":53,"maxExtent":53,"grid":false,"title":null}}}},
   {"data":{"values":[{"t":"E)","x":2.79,"y":1.80}]},
    "mark":{"type":"text","font":"Liberation Serif","fontSize":24,"fontWeight":"bold","align":"left","baseline":"middle","color":"black"},
    "encoding":{
     "x":{"field":"x","type":"quantitative","scale":{"domain":[-4.684,3.72],"nice":false,"zero":false},"axis":null},
     "y":{"field":"y","type":"quantitative","scale":{"domain":[-6.0,2.335],"nice":false,"zero":false},"axis":null},
     "text":{"field":"t","type":"nominal"}}},
   {"data":{"values":[{"t":"HT-625 nm","x":-4.28,"y":-5.03}]},
    "mark":{"type":"text","font":"Liberation Serif","fontSize":20,"fontWeight":"bold","align":"left","baseline":"middle","color":"black"},
    "encoding":{
     "x":{"field":"x","type":"quantitative","scale":{"domain":[-4.684,3.72],"nice":false,"zero":false},"axis":null},
     "y":{"field":"y","type":"quantitative","scale":{"domain":[-6.0,2.335],"nice":false,"zero":false},"axis":null},
     "text":{"field":"t","type":"nominal"}}}
  ]
 },
 {
  "width":449,"height":448,
  "resolve":{"axis":{"x":"independent","y":"independent"}},
  "layer":[
   {"data":{"values":[{"z":0}]},"mark":{"type":"rule","color":"#222","strokeWidth":1},
    "encoding":{"x":{"field":"z","type":"quantitative","scale":{"domain":[-3.55,2.335],"nice":false,"zero":false},
     "axis":{"orient":"top","values":[-3,-2,-1,0,1,2],"labels":false,"tickSize":5,"minExtent":6,"maxExtent":6,"grid":true,"title":null}}}},
   {"data":{"values":[{"z":0}]},"mark":{"type":"rule","color":"#222","strokeWidth":1},
    "encoding":{"y":{"field":"z","type":"quantitative","scale":{"domain":[-2.48,3.414],"nice":false,"zero":false},
     "axis":{"orient":"right","values":[-2,-1,0,1,2,3],"labels":false,"tickSize":6,"minExtent":10,"maxExtent":10,"grid":false,"title":null}}}},
   {"data":{"name":"F"},"transform":[{"filter":"isValid(datum.ex)"}],"mark":{"type":"rule","strokeWidth":1},
    "encoding":{
     "x":{"field":"x","type":"quantitative","scale":{"domain":[-3.55,2.335],"nice":false,"zero":false},"axis":null},
     "y":{"field":"y","type":"quantitative","scale":{"domain":[-2.48,3.414],"nice":false,"zero":false},"axis":null},
     "x2":{"field":"ex"},"y2":{"field":"ey"},
     "color":{"field":"s","type":"nominal","scale":{"domain":["sp","su","fa"],"range":["#FFA500","#A020F0","#BEBEBE"]},"legend":null}}},
   {"data":{"name":"F"},"mark":{"type":"text","font":"Liberation Sans","fontSize":17,"align":"center","baseline":"middle"},
    "encoding":{
     "x":{"field":"lx","type":"quantitative","scale":{"domain":[-3.55,2.335],"nice":false,"zero":false},"axis":null},
     "y":{"field":"ly","type":"quantitative","scale":{"domain":[-2.48,3.414],"nice":false,"zero":false},"axis":null},
     "text":{"field":"n","type":"nominal"},
     "color":{"field":"s","type":"nominal","scale":{"domain":["sp","su","fa"],"range":["#FFA500","#A020F0","#BEBEBE"]},"legend":null}}},
   {"data":{"name":"F"},"mark":{"type":"circle","color":"black","size":18,"opacity":1},
    "encoding":{
     "x":{"field":"x","type":"quantitative","scale":{"domain":[-3.55,2.335],"nice":false,"zero":false},
      "axis":{"orient":"bottom","values":[-3,-2,-1,0,1,2],"tickSize":4,"labelPadding":1,"labelFontSize":14.5,"minExtent":20,"maxExtent":20,"grid":false,"title":null}},
     "y":{"field":"y","type":"quantitative","scale":{"domain":[-2.48,3.414],"nice":false,"zero":false},
      "axis":{"orient":"left","values":[-2,-1,0,1,2,3],"tickSize":4,"labelPadding":4,"labelFontSize":15,"minExtent":50,"maxExtent":50,"grid":true,"title":null}}}},
   {"data":{"values":[{"t":"F)","x":1.64,"y":3.06}]},
    "mark":{"type":"text","font":"Liberation Serif","fontSize":24,"fontWeight":"bold","align":"left","baseline":"middle","color":"black"},
    "encoding":{
     "x":{"field":"x","type":"quantitative","scale":{"domain":[-3.55,2.335],"nice":false,"zero":false},"axis":null},
     "y":{"field":"y","type":"quantitative","scale":{"domain":[-2.48,3.414],"nice":false,"zero":false},"axis":null},
     "text":{"field":"t","type":"nominal"}}},
   {"data":{"values":[{"t":"LT-625 nm","x":-3.38,"y":-2.14}]},
    "mark":{"type":"text","font":"Liberation Serif","fontSize":20,"fontWeight":"bold","align":"left","baseline":"middle","color":"black"},
    "encoding":{
     "x":{"field":"x","type":"quantitative","scale":{"domain":[-3.55,2.335],"nice":false,"zero":false},"axis":null},
     "y":{"field":"y","type":"quantitative","scale":{"domain":[-2.48,3.414],"nice":false,"zero":false},"axis":null},
     "text":{"field":"t","type":"nominal"}}}
  ]
 }
]
}
